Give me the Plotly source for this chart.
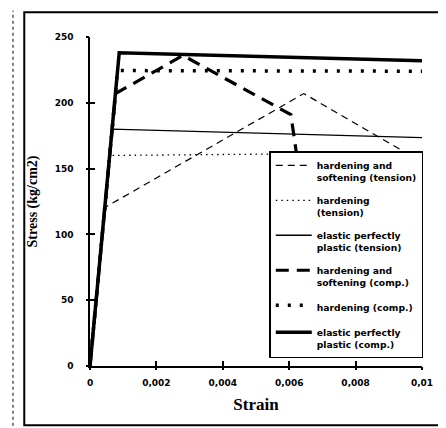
import plotly.graph_objects as go

# ---- data (strain, stress in kg/cm2) ----
ten_hs_x = [0, 0.00045, 0.00644, 0.0100]
ten_hs_y = [0, 120.5, 207, 155]
ten_hard_x = [0, 0.00059, 0.0100]
ten_hard_y = [0, 160, 162]
ten_epp_x = [0, 0.00067, 0.0100]
ten_epp_y = [0, 180, 173.5]
comp_hs_x = [0, 0.00077, 0.0028, 0.00605, 0.0064]
comp_hs_y = [0, 207, 236, 191, 130]
comp_hard_x = [0, 0.00083, 0.0100]
comp_hard_y = [0, 224.5, 224]
comp_epp_x = [0, 0.00088, 0.0100]
comp_epp_y = [0, 238, 232]

names = [
    "hardening and<br>softening (tension)",
    "hardening<br>(tension)",
    "elastic perfectly<br>plastic (tension)",
    "hardening and<br>softening (comp.)",
    "hardening (comp.)",
    "elastic perfectly<br>plastic (comp.)",
]
x_tickvals = [0, 0.002, 0.004, 0.006, 0.008, 0.01]
x_ticktext = ["0", "0,002", "0,004", "0,006", "0,008", "0,01"]
y_tickvals = [0, 50, 100, 150, 200, 250]

series = [
    (ten_hs_x, ten_hs_y, dict(width=1.2, dash="7px,5px")),
    (ten_hard_x, ten_hard_y, dict(width=1.3, dash="1.5px,4px")),
    (ten_epp_x, ten_epp_y, dict(width=1.4, dash="solid")),
    (comp_hs_x, comp_hs_y, dict(width=3.2, dash="13px,8px")),
    (comp_hard_x, comp_hard_y, dict(width=3.5, dash="3px,9px")),
    (comp_epp_x, comp_epp_y, dict(width=3.5, dash="solid")),
]

fig = go.Figure()
for i, ((xs, ys, st), nm) in enumerate(zip(series, names)):
    fig.add_trace(go.Scatter(x=xs, y=ys, mode="lines", name=nm,
                             legendgroup="g%d" % i,
                             line=dict(color="black", **st)))
# helper trace so the secondary (outside-tick) axes are drawn
fig.add_trace(go.Scatter(x=[None], y=[None], xaxis="x2", yaxis="y2",
                         showlegend=False, hoverinfo="skip"))

tickfont = dict(family="DejaVu Sans", size=9, color="black", weight="bold")
common_x = dict(range=[0, 0.01], tickvals=x_tickvals, showgrid=False, zeroline=False)
common_y = dict(range=[0, 250], tickvals=y_tickvals, showgrid=False, zeroline=False)

fig.update_layout(
    width=446, height=428,
    margin=dict(l=82, r=32, t=29, b=70),
    paper_bgcolor="white", plot_bgcolor="white",
    showlegend=True,
    xaxis=dict(**common_x, ticktext=x_ticktext, ticks="inside", ticklen=5,
               tickwidth=1.5, tickcolor="black", showline=True, linecolor="black",
               linewidth=1.5, tickfont=tickfont, ticklabelstandoff=7,
               title=dict(text="Strain", standoff=12,
                          font=dict(family="Liberation Serif", size=17,
                                    color="black", weight="bold"))),
    yaxis=dict(**common_y, ticks="inside", ticklen=5, tickwidth=1.5,
               tickcolor="black", showline=True, linecolor="black", linewidth=1.5,
               tickfont=tickfont, ticklabelstandoff=13,
               title=dict(text="Stress (kg/cm2)", standoff=14,
                          font=dict(family="Liberation Serif", size=14,
                                    color="black", weight="bold"))),
    xaxis2=dict(**common_x, overlaying="x", ticks="outside", ticklen=3,
                tickwidth=1.5, tickcolor="black", showticklabels=False,
                showline=False),
    yaxis2=dict(**common_y, overlaying="y", ticks="outside", ticklen=3,
                tickwidth=1.5, tickcolor="black", showticklabels=False,
                showline=False),
    legend=dict(x=0.54, y=0.652, xanchor="left", yanchor="top",
                bgcolor="white", bordercolor="black", borderwidth=1.5,
                font=dict(family="DejaVu Sans", size=9.2, color="black", weight="bold"),
                valign="top", tracegroupgap=8, itemwidth=36),
    shapes=[
        dict(type="rect", xref="paper", yref="paper", x0=-0.198, x1=1.078,
             y0=-0.18, y1=1.075, line=dict(color="black", width=2)),
        dict(type="line", xref="paper", yref="paper", x0=-0.232, x1=-0.232,
             y0=-0.2, y1=1.08, line=dict(color="black", width=1, dash="dot")),
    ],
)

fig.write_html("out.html")
